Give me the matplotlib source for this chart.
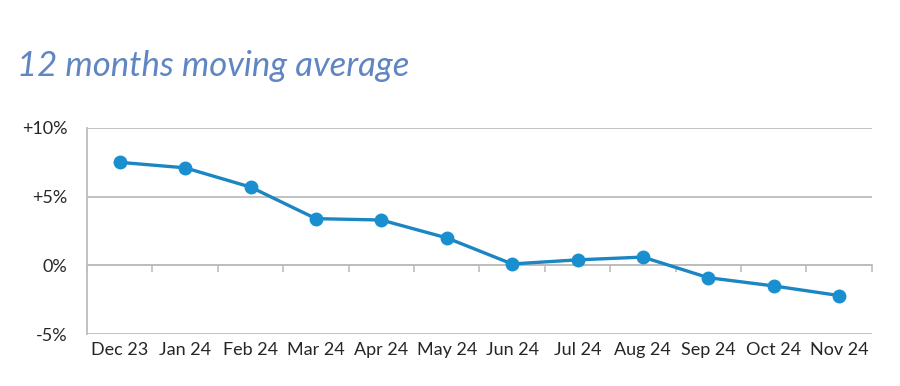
import matplotlib.pyplot as plt
import numpy as np

months = ['Dec 23', 'Jan 24', 'Feb 24', 'Mar 24', 'Apr 24', 'May 24',
          'Jun 24', 'Jul 24', 'Aug 24', 'Sep 24', 'Oct 24', 'Nov 24']
moving_avg = [7.5, 7.1, 5.7, 3.4, 3.3, 2.0, 0.1, 0.4, 0.6, -0.9, -1.5, -2.2]
yticks = [-5, 0, 5, 10]
ytick_labels = ['-5%', '0%', '+5%', '+10%']

plt.rcParams['font.family'] = ['Lato', 'DejaVu Sans']

fig = plt.figure(figsize=(9, 3.86), dpi=100)
ax = fig.add_axes([0.0967, 0.1347, 0.872, 0.5337])

x = np.arange(len(months))
ax.plot(x, moving_avg, color='#1b86c2', lw=2.4, marker='o', ms=9,
        markerfacecolor='#1a8fd0', markeredgecolor='#1a8fd0', zorder=3)

ax.set_xlim(-0.5, len(months) - 0.5)
ax.set_ylim(-5, 10)
ax.set_yticks(yticks)
ax.set_yticklabels(ytick_labels, fontsize=13, color='#262626')
ax.yaxis.grid(True, color='#bdbdbd', lw=1.3)
ax.set_axisbelow(True)
ax.tick_params(axis='y', length=0, pad=14)

ax.set_xticks(x)
ax.set_xticklabels(months, fontsize=13, color='#262626')
ax.tick_params(axis='x', length=0, pad=6)

for s in ['top', 'right', 'bottom']:
    ax.spines[s].set_visible(False)
ax.spines['left'].set_color('#bdbdbd')
ax.spines['left'].set_linewidth(1.3)

# category axis at 0% with ticks between categories
sec = ax.secondary_xaxis(1 / 3)
sec.set_xticks(np.arange(len(months) + 1) - 0.5)
sec.set_xticklabels([])
sec.tick_params(axis='x', direction='out', length=5, color='#bdbdbd', width=1.2)
sec.spines['bottom'].set_color('#bdbdbd')
sec.spines['bottom'].set_linewidth(1.3)

fig.text(0.019, 0.83, '12 months moving average', fontsize=25, style='italic',
         color='#5f86c2', va='center', ha='left')

fig.savefig('out.png', dpi=100, facecolor='white')
